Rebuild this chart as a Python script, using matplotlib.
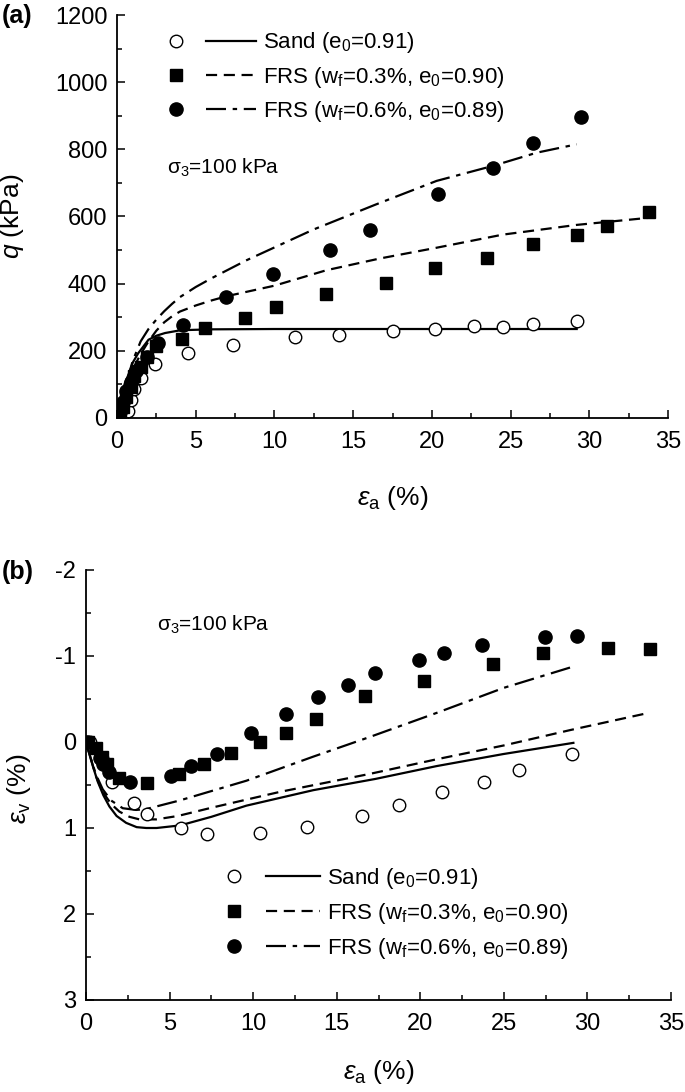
import numpy as np
import matplotlib
matplotlib.use("Agg")
import matplotlib.pyplot as plt
from matplotlib.legend_handler import HandlerTuple
from matplotlib.lines import Line2D

plt.rcParams['font.family'] = ['Liberation Sans', 'DejaVu Sans']
plt.rcParams['mathtext.fontset'] = 'custom'
plt.rcParams['mathtext.rm'] = 'Liberation Sans'
plt.rcParams['mathtext.it'] = 'Liberation Sans:italic'
plt.rcParams['mathtext.bf'] = 'Liberation Sans:bold'
plt.rcParams['axes.unicode_minus'] = False

# ---- (a) q vs axial strain : test points
sand_a_x = [0.3, 0.7, 0.9, 1.1, 1.5, 2.4, 4.5, 7.4, 11.3, 14.1, 17.5, 20.2, 22.7, 24.5, 26.4, 29.2]
sand_a_q = [5, 20, 55, 85, 120, 160, 193, 217, 241, 248, 260, 264, 275, 272, 279, 289]
frs3_a_x = [0.2, 0.4, 0.6, 0.9, 1.1, 1.5, 1.9, 2.5, 4.1, 5.6, 8.1, 10.1, 13.3, 17.1, 20.2, 23.5, 26.4, 29.2, 31.1, 33.8]
frs3_a_q = [9, 34, 64, 93, 125, 153, 183, 213, 235, 268, 298, 331, 369, 402, 447, 476, 518, 546, 573, 613]
frs6_a_x = [0.2, 0.4, 0.6, 0.9, 1.2, 1.9, 2.6, 4.2, 6.9, 9.9, 13.5, 16.1, 20.4, 23.9, 26.4, 29.5]
frs6_a_q = [19, 49, 79, 108, 140, 183, 223, 276, 360, 430, 501, 561, 666, 745, 818, 896]

# (a) model curves
sand_a_lx = [0, 0.2, 0.5, 0.83, 1.0, 1.35, 2.0, 2.5, 3.05, 4.0, 4.5, 6, 10, 15, 20, 25, 29.2]
sand_a_lq = [0, 50, 104, 140, 165, 193, 233, 245, 253, 261, 262, 264, 265, 265, 265, 265, 265]
frs3_a_lx = [0, 0.3, 0.6, 1.0, 1.5, 2.0, 2.5, 3.0, 3.5, 4.0, 5.0, 6.0, 7.0, 10.0, 13.3, 16.7, 20.3, 24.5, 29.2, 33.75]
frs3_a_lq = [0, 60, 105, 145, 190, 228, 260, 285, 303, 317, 335, 350, 363, 394, 440, 475, 507, 546, 575, 596]
frs6_a_lx = [0, 0.3, 0.5, 1.0, 1.5, 2.0, 2.5, 3.0, 3.5, 4.0, 5.0, 6.0, 8.24, 12.47, 16.4, 20.3, 23.9, 26.66, 29.2]
frs6_a_lq = [0, 60, 90, 170, 228, 265, 293, 318, 340, 360, 390, 416, 470, 561, 635, 706, 751, 790, 815]

# ---- (b) volumetric strain vs axial strain : test points
sand_b_x = [0.25, 0.94, 1.54, 2.85, 3.63, 5.7, 7.24, 10.4, 13.2, 16.5, 18.7, 21.3, 23.8, 25.9, 29.1]
sand_b_v = [0.0, 0.19, 0.46, 0.71, 0.84, 1.0, 1.07, 1.06, 0.99, 0.86, 0.73, 0.58, 0.47, 0.33, 0.14]
frs3_b_x = [0.14, 0.6, 0.94, 1.24, 2.0, 3.63, 5.54, 7.08, 8.66, 10.41, 11.95, 13.74, 16.69, 20.25, 24.34, 27.33, 31.24, 33.75]
frs3_b_v = [0.0, 0.07, 0.17, 0.25, 0.42, 0.48, 0.37, 0.25, 0.13, 0.0, -0.1, -0.27, -0.53, -0.71, -0.91, -1.03, -1.09, -1.08]
frs6_b_x = [0.04, 0.84, 1.04, 1.36, 2.63, 5.1, 6.28, 7.82, 9.87, 11.97, 13.9, 15.7, 17.3, 19.95, 21.4, 23.72, 27.47, 29.4]
frs6_b_v = [0.0, 0.19, 0.26, 0.35, 0.46, 0.39, 0.28, 0.14, -0.1, -0.33, -0.52, -0.66, -0.8, -0.95, -1.04, -1.13, -1.22, -1.23]

# (b) model curves
sand_b_lx = [0, 0.2, 0.44, 0.7, 1.04, 1.4, 1.83, 2.4, 3.03, 3.6, 4.22, 5.63, 7.5, 9.6, 13.6, 17.3, 20.98, 24.97, 29.16]
sand_b_lv = [0, 0.14, 0.3, 0.46, 0.62, 0.75, 0.86, 0.94, 0.99, 1.0, 1.0, 0.97, 0.87, 0.74, 0.56, 0.43, 0.28, 0.14, 0.01]
frs3_b_lx = [0, 0.3, 0.6, 1.0, 1.5, 2.0, 2.6, 3.2, 4.2, 5.5, 7.6, 11.6, 17.0, 21.0, 25.0, 29.0, 33.7]
frs3_b_lv = [0, 0.2, 0.4, 0.58, 0.72, 0.81, 0.87, 0.9, 0.9, 0.86, 0.76, 0.58, 0.37, 0.2, 0.04, -0.14, -0.34]
frs6_b_lx = [0, 0.3, 0.6, 1.0, 1.5, 2.2, 3.0, 3.6, 5.6, 9.6, 13.6, 17.0, 21.0, 25.0, 29.2]
frs6_b_lv = [0, 0.2, 0.38, 0.55, 0.68, 0.77, 0.79, 0.78, 0.68, 0.45, 0.17, -0.06, -0.34, -0.63, -0.88]

labels = ['Sand ($\\mathregular{e_0}$=0.91)',
          'FRS ($\\mathregular{w_f}$=0.3%, $\\mathregular{e_0}$=0.90)',
          'FRS ($\\mathregular{w_f}$=0.6%, $\\mathregular{e_0}$=0.89)']

W, H = 685, 1092
fig = plt.figure(figsize=(W / 100, H / 100), dpi=100)

def box(l, r, t, b):
    return [l / W, 1 - b / H, (r - l) / W, (b - t) / H]

ax1 = fig.add_axes(box(117, 668, 15, 418))
ax2 = fig.add_axes(box(86, 671, 570, 1000))

dash = (0, (5, 3))
dashdot = (0, (9, 3, 2, 3))
ms_o, ms_s, ms_f = 9, 8, 9.5

def draw(ax, sx, sy, s3x, s3y, s6x, s6y, lx, ly, l3x, l3y, l6x, l6y):
    ax.plot(lx, ly, color='black', lw=1.6, ls='-')
    ax.plot(l3x, l3y, color='black', lw=1.6, ls=dash)
    ax.plot(l6x, l6y, color='black', lw=1.6, ls=dashdot)
    ax.plot(sx, sy, 'o', mfc='white', mec='black', mew=1.0, ms=ms_o, ls='none')
    ax.plot(s3x, s3y, 's', color='black', ms=ms_s, ls='none')
    ax.plot(s6x, s6y, 'o', color='black', ms=ms_f, ls='none')

draw(ax1, sand_a_x, sand_a_q, frs3_a_x, frs3_a_q, frs6_a_x, frs6_a_q,
     sand_a_lx, sand_a_lq, frs3_a_lx, frs3_a_lq, frs6_a_lx, frs6_a_lq)
draw(ax2, sand_b_x, sand_b_v, frs3_b_x, frs3_b_v, frs6_b_x, frs6_b_v,
     sand_b_lx, sand_b_lv, frs3_b_lx, frs3_b_lv, frs6_b_lx, frs6_b_lv)

for ax in (ax1, ax2):
    ax.spines['top'].set_visible(False)
    ax.spines['right'].set_visible(False)
    for s in ('left', 'bottom'):
        ax.spines[s].set_linewidth(1.3)
    ax.set_xlim(0, 35)
    ax.set_xticks(np.arange(0, 36, 5))
    ax.set_xticks(np.arange(2.5, 35, 5), minor=True)
    ax.tick_params(which='major', direction='in', length=6, width=1.1, labelsize=17)
    ax.tick_params(which='minor', direction='in', length=3.5, width=1.1)
    ax.tick_params(axis='x', which='major', pad=9)
    ax.tick_params(axis='y', which='major', pad=7)
    ax.set_xlabel('$\\varepsilon_\\mathregular{a}$ (%)', fontsize=19)

ax1.set_ylim(0, 1200)
ax1.set_yticks(np.arange(0, 1201, 200))
ax1.set_yticks(np.arange(100, 1200, 200), minor=True)
ax1.set_ylabel('$q$ (kPa)', fontsize=19)
ax1.yaxis.set_label_coords(-0.165, 0.5)
ax1.xaxis.set_label_coords(0.5, -0.163)

ax2.set_ylim(3, -2)
ax2.set_yticks(np.arange(-2, 3.1, 1))
ax2.set_yticks(np.arange(-1.5, 3, 1), minor=True)
ax2.set_ylabel('$\\varepsilon_\\mathregular{v}$ (%)', fontsize=19)
ax2.yaxis.set_label_coords(-0.091, 0.49)
ax2.xaxis.set_label_coords(0.5, -0.135)

ax1.text(0.091, 0.62, '$\\mathregular{\\sigma_3}$=100 kPa', transform=ax1.transAxes,
         fontsize=15, va='center', ha='left')
ax2.text(0.122, 0.872, '$\\mathregular{\\sigma_3}$=100 kPa', transform=ax2.transAxes,
         fontsize=15, va='center', ha='left')

def legend_handles():
    mk = [Line2D([], [], marker='o', mfc='white', mec='black', mew=1.0, ms=ms_o, ls='none'),
          Line2D([], [], marker='s', color='black', ms=ms_s, ls='none'),
          Line2D([], [], marker='o', color='black', ms=ms_f, ls='none')]
    ln = [Line2D([], [], color='black', lw=1.6, ls='-'),
          Line2D([], [], color='black', lw=1.6, ls=dash),
          Line2D([], [], color='black', lw=1.6, ls=dashdot)]
    return [(m, l) for m, l in zip(mk, ln)]

fs_leg = 16
em = fs_leg * 100 / 72
ax1.legend(legend_handles(), labels, loc='upper left', bbox_to_anchor=(0.062, 0.962),
           frameon=False, fontsize=fs_leg, handlelength=105 / em, handletextpad=6.5 / em,
           labelspacing=0.42, borderpad=0, borderaxespad=0,
           handler_map={tuple: HandlerTuple(ndivide=None, pad=5 / em)})
ax2.legend(legend_handles(), labels, loc='upper left', bbox_to_anchor=(0.208, 0.312),
           frameon=False, fontsize=fs_leg, handlelength=112 / em, handletextpad=7.5 / em,
           labelspacing=0.45, borderpad=0, borderaxespad=0,
           handler_map={tuple: HandlerTuple(ndivide=None, pad=5 / em)})

fig.text(2 / W, 1 - 16 / H, '(a)', fontsize=18, fontweight='bold', va='center', ha='left')
fig.text(2 / W, 1 - 572 / H, '(b)', fontsize=18, fontweight='bold', va='center', ha='left')

fig.savefig('out.png', dpi=100)
